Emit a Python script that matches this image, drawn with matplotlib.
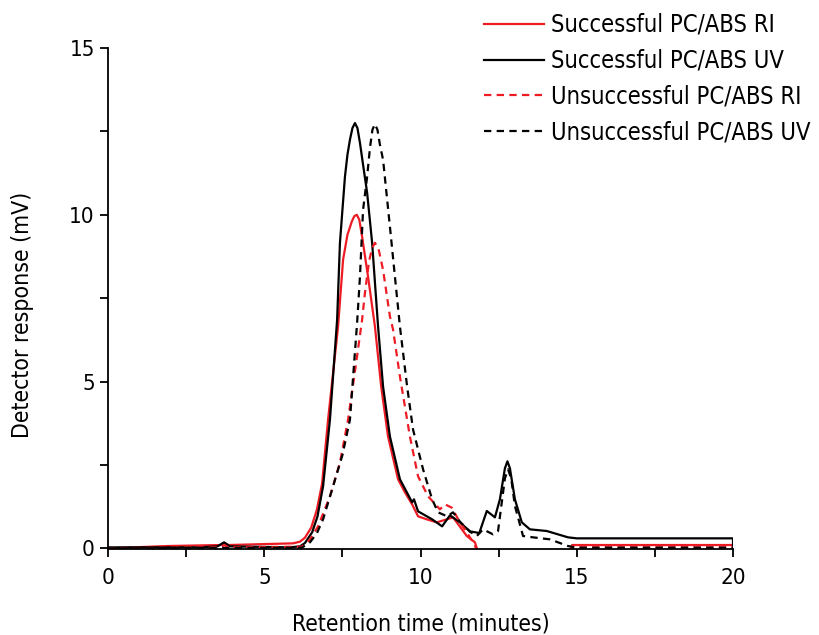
import numpy as np
import matplotlib.pyplot as plt

plt.rcParams['font.family'] = ['DejaVu Sans']
plt.rcParams['font.stretch'] = 'condensed'

# successful PC/ABS, UV detector (black solid)
succ_uv_t = [0, 2.9, 3.5, 3.71, 3.9, 5.8, 6.14, 6.3, 6.53, 6.7, 6.88, 7.1, 7.33, 7.42, 7.58, 7.66,
             7.74, 7.82, 7.9, 7.98, 8.06, 8.16, 8.29, 8.45, 8.64, 8.8, 9.02, 9.34, 9.73, 9.79, 9.92,
             10.37, 10.69, 10.94, 11.26, 11.58, 11.88, 12.12, 12.38, 12.54, 12.7, 12.78, 12.86,
             13.02, 13.24, 13.5, 14.04, 14.72, 15.0, 20.0, 20.0]
succ_uv_mv = [0.03, 0.03, 0.06, 0.18, 0.06, 0.03, 0.06, 0.16, 0.48, 0.95, 1.86, 3.86, 6.86, 9.16, 11.14, 11.8,
              12.25, 12.6, 12.75, 12.6, 12.16, 11.5, 10.66, 9.16, 6.65, 4.85, 3.35, 2.07, 1.38, 1.47, 1.11,
              0.87, 0.66, 0.99, 0.78, 0.51, 0.46, 1.12, 0.93, 1.47, 2.4, 2.61, 2.4,
              1.47, 0.78, 0.57, 0.52, 0.33, 0.3, 0.3, 0.0]

# successful PC/ABS, RI detector (red solid)
succ_ri_t = [0, 1.9, 3.6, 3.72, 3.85, 5.92, 6.14, 6.3, 6.5, 6.68, 6.85, 7.04, 7.36, 7.52, 7.66,
             7.8, 7.88, 7.96, 8.04, 8.13, 8.32, 8.54, 8.74, 8.96, 9.28, 9.5, 9.73, 9.92, 10.2,
             10.52, 10.84, 11.04, 11.48, 11.74, 11.83, 11.9, 14.7, 14.85, 20.0]
succ_ri_mv = [0.0, 0.07, 0.1, 0.16, 0.1, 0.15, 0.2, 0.32, 0.62, 1.15, 1.95, 3.86, 6.65, 8.65, 9.4,
              9.8, 9.96, 10.0, 9.85, 9.34, 8.14, 6.65, 4.85, 3.35, 2.07, 1.68, 1.32, 0.96, 0.87,
              0.78, 0.87, 0.93, 0.37, 0.18, -0.08, -0.5, -0.3, 0.1, 0.1]

# unsuccessful PC/ABS, UV detector (black dashed)
unsucc_uv_t = [0, 6.2, 6.46, 6.68, 6.88, 7.2, 7.5, 7.74, 7.97, 8.06, 8.16, 8.29, 8.38, 8.46, 8.54,
               8.62, 8.7, 8.8, 9.02, 9.18, 9.34, 9.57, 9.76, 10.08, 10.37, 10.56, 10.85, 11.04,
               11.26, 11.58, 11.8, 12.0, 12.32, 12.48, 12.7, 12.8, 12.9, 13.02, 13.28, 13.6,
               14.14, 14.72, 15.0, 20.0]
unsucc_uv_mv = [0.0, 0.02, 0.18, 0.45, 0.87, 1.86, 2.8, 3.86, 6.77, 8.14, 10.15, 11.14, 12.0, 12.55, 12.72,
                12.55, 12.1, 11.65, 9.64, 8.14, 6.65, 4.85, 3.56, 2.37, 1.47, 1.08, 0.96, 1.08,
                0.8, 0.5, 0.37, 0.57, 0.42, 0.52, 2.1, 2.37, 2.1, 1.27, 0.37, 0.33,
                0.27, 0.07, 0.02, 0.02]

# unsuccessful PC/ABS, RI detector (red dashed)
unsucc_ri_t = [0, 3.6, 3.72, 3.85, 6.2, 6.45, 6.72, 7.1, 7.42, 7.68, 7.9, 8.13, 8.22, 8.35, 8.45,
               8.54, 8.65, 8.8, 9.02, 9.12, 9.34, 9.66, 9.92, 10.24, 10.62, 10.78, 11.0, 11.26,
               11.48, 11.68, 11.8, 11.9, 14.7, 14.9, 20.0]
unsucc_ri_mv = [0.0, 0.03, 0.1, 0.03, 0.05, 0.25, 0.66, 1.56, 2.57, 3.86, 5.3, 6.86, 7.66, 8.6, 9.0,
                9.16, 9.0, 8.35, 6.95, 6.56, 5.15, 3.35, 2.16, 1.56, 1.17, 1.32, 1.22, 0.78,
                0.48, 0.18, -0.03, -0.5, -0.3, 0.03, 0.03]

red = '#ed1c24'

fig = plt.figure(figsize=(8.19, 6.35), dpi=100)
ax = fig.add_axes([0.132, 0.1354, 0.763, 0.789])

ax.plot(succ_ri_t, succ_ri_mv, color=red, lw=1.6, label='Successful PC/ABS RI')
ax.plot(succ_uv_t, succ_uv_mv, color='black', lw=1.6, label='Successful PC/ABS UV')
ax.plot(unsucc_ri_t, unsucc_ri_mv, color=red, lw=1.6, dashes=(3.3, 2.4), label='Unsuccessful PC/ABS RI')
ax.plot(unsucc_uv_t, unsucc_uv_mv, color='black', lw=1.6, dashes=(3.3, 2.4), label='Unsuccessful PC/ABS UV')

ax.set_xlim(0, 20)
ax.set_ylim(-0.02, 15)
ax.set_xticks([0, 5, 10, 15, 20])
ax.set_xticks([2.5, 7.5, 12.5, 17.5], minor=True)
ax.set_yticks([0, 5, 10, 15])
ax.set_yticks([2.5, 7.5, 12.5], minor=True)
for s in ['top', 'right']:
    ax.spines[s].set_visible(False)
for s in ['left', 'bottom']:
    ax.spines[s].set_linewidth(1.3)
ax.tick_params(which='both', direction='out', length=6, width=1.3, labelsize=16)
ax.tick_params(axis='x', pad=8)
ax.set_xlabel('Retention time (minutes)', fontsize=16.5)
ax.set_ylabel('Detector response (mV)', fontsize=16.5)
ax.xaxis.set_label_coords(0.5, -0.126)
ax.yaxis.set_label_coords(-0.118, 0.467)

ax.legend(loc='upper left', bbox_to_anchor=(0.585, 0.987), bbox_transform=fig.transFigure,
          frameon=False, fontsize=17, handlelength=2.55, handletextpad=0.3, labelspacing=0.5,
          borderaxespad=0, borderpad=0.2)

fig.savefig('out.png', dpi=100)
